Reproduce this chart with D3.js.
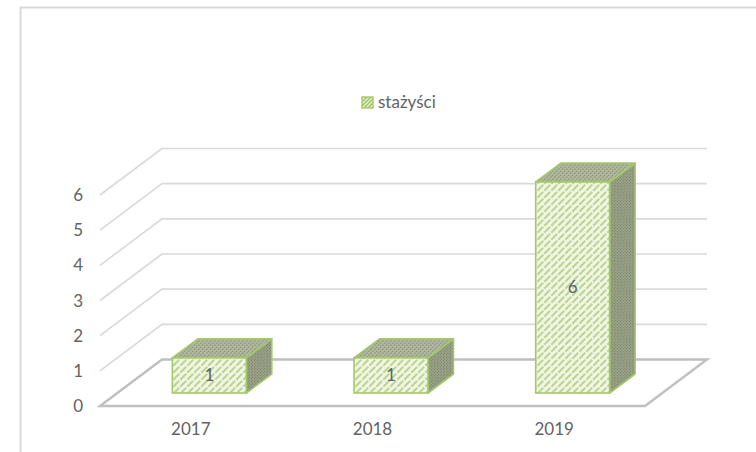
<!DOCTYPE html>
<html>
<head>
<meta charset="utf-8">
<script src="https://d3js.org/d3.v7.min.js"></script>
<style>
  html, body { margin: 0; padding: 0; background: #fff; overflow: hidden; }
  text { font-family: Lato, "Open Sans", sans-serif; fill: #636363; }
</style>
</head>
<body>
<svg class="Chart"></svg>
<script>
/* Data */
const years = ['2017', '2018', '2019'];
const stazysci = [1, 1, 6];
const yTicks = [0, 1, 2, 3, 4, 5, 6];
const seriesName = 'stażyści';

const width = 756;
const height = 452;
const svg = d3.select('.Chart')
  .attr('width', width)
  .attr('height', height);

/* Front plane of the 3d box and its depth offset */
const x = d3.scaleBand().domain(years).range([100, 645]).paddingInner(0.593).paddingOuter(0.2965);
const xLabel = d3.scaleBand().domain(years).range([100, 645]);
const y = d3.scaleLinear().domain([0, 6]).range([406, 195]);
const depth = { dx: 62, dy: -46.5 };
const barShift = { dx: 18.5, dy: -13 };
const barDepth = { dx: 25.5, dy: -19 };

/* Hatch fills */
const defs = svg.append('defs');

function hatch(id, size, bg, fg, sw, gap) {
  const p = defs.append('pattern')
    .attr('id', id)
    .attr('patternUnits', 'userSpaceOnUse')
    .attr('width', size)
    .attr('height', size);
  p.append('rect').attr('width', size).attr('height', size).attr('fill', bg);
  p.append('path')
    .attr('d', `M${-size / 2},${size / 2}L${size / 2},${-size / 2}M0,${size}L${size},0M${size / 2},${size * 1.5}L${size * 1.5},${size / 2}`)
    .attr('stroke', fg)
    .attr('stroke-width', sw)
    .attr('stroke-dasharray', gap || null);
}
hatch('front', 7, '#f0f6e4', '#bcd594', 2, '6,1.5');
hatch('top', 4, '#b2b9a1', '#8f9b76', 1.3, '2,1');
hatch('side', 3, '#9ca38c', '#7f8b69', 1.2, '1.5,1');
hatch('legend', 4, '#e6f0d2', '#9dc35c', 1.4);

/* Outer frame, only top and left are in the crop */
svg.append('path')
  .attr('d', 'M20.5,452V7.5H756')
  .attr('fill', 'none')
  .attr('stroke', '#d9d9d9')
  .attr('stroke-width', 2);

/* Gridlines on side and back wall */
svg.append('g')
  .selectAll('path')
  .data(yTicks.filter(d => d > 0))
  .enter().append('path')
  .attr('d', d => d3.line()([
    [x.range()[0], y(d)],
    [x.range()[0] + depth.dx, y(d) + depth.dy],
    [645 + depth.dx, y(d) + depth.dy]
  ]))
  .attr('fill', 'none')
  .attr('stroke', '#d9d9d9')
  .attr('stroke-width', 1.6);

/* Floor */
svg.append('path')
  .attr('d', d3.line()([
    [100, y(0)],
    [100 + depth.dx, y(0) + depth.dy],
    [645 + depth.dx, y(0) + depth.dy],
    [645, y(0)]
  ]) + 'Z')
  .attr('fill', 'none')
  .attr('stroke', '#bfbfbf')
  .attr('stroke-width', 2.4);

/* Bars */
const bars = svg.append('g')
  .selectAll('g')
  .data(years.map((year, i) => ({ year: year, value: stazysci[i] })))
  .enter().append('g');

const barEdge = '#a5c76c';

function left(d) { return x(d.year) + barShift.dx; }
function right(d) { return left(d) + x.bandwidth(); }
function topY(d) { return y(d.value) + barShift.dy; }
function bottomY() { return y(0) + barShift.dy; }

bars.append('path')
  .attr('d', d => d3.line()([
    [right(d), topY(d)],
    [right(d) + barDepth.dx, topY(d) + barDepth.dy],
    [right(d) + barDepth.dx, bottomY() + barDepth.dy],
    [right(d), bottomY()]
  ]) + 'Z')
  .attr('fill', 'url(#side)')
  .attr('stroke', barEdge)
  .attr('stroke-width', 1.6)
  .attr('stroke-linejoin', 'round');

bars.append('path')
  .attr('d', d => d3.line()([
    [left(d), topY(d)],
    [left(d) + barDepth.dx, topY(d) + barDepth.dy],
    [right(d) + barDepth.dx, topY(d) + barDepth.dy],
    [right(d), topY(d)]
  ]) + 'Z')
  .attr('fill', 'url(#top)')
  .attr('stroke', barEdge)
  .attr('stroke-width', 1.6)
  .attr('stroke-linejoin', 'round');

bars.append('rect')
  .attr('x', left)
  .attr('y', topY)
  .attr('width', x.bandwidth())
  .attr('height', d => bottomY() - topY(d))
  .attr('fill', 'url(#front)')
  .attr('stroke', barEdge)
  .attr('stroke-width', 1.6);

/* Value labels */
bars.append('text')
  .attr('x', d => left(d) + x.bandwidth() / 2)
  .attr('y', d => (topY(d) + bottomY()) / 2 + 5.5)
  .attr('text-anchor', 'middle')
  .attr('font-size', 17)
  .text(d => d.value);

/* Y axis labels */
svg.append('g')
  .selectAll('text')
  .data(yTicks)
  .enter().append('text')
  .attr('x', 83)
  .attr('y', d => y(d) + 6)
  .attr('text-anchor', 'end')
  .attr('font-size', 17)
  .text(d => d);

/* X axis labels */
svg.append('g')
  .selectAll('text')
  .data(years)
  .enter().append('text')
  .attr('x', d => xLabel(d) + xLabel.bandwidth() / 2)
  .attr('y', 435)
  .attr('text-anchor', 'middle')
  .attr('font-size', 17)
  .text(d => d);

/* Legend */
svg.append('rect')
  .attr('x', 362)
  .attr('y', 97)
  .attr('width', 11)
  .attr('height', 11)
  .attr('fill', 'url(#legend)')
  .attr('stroke', '#a5c76c')
  .attr('stroke-width', 1.4);

svg.append('text')
  .attr('x', 378)
  .attr('y', 108)
  .attr('font-size', 17)
  .text(seriesName);
</script>
</body>
</html>
